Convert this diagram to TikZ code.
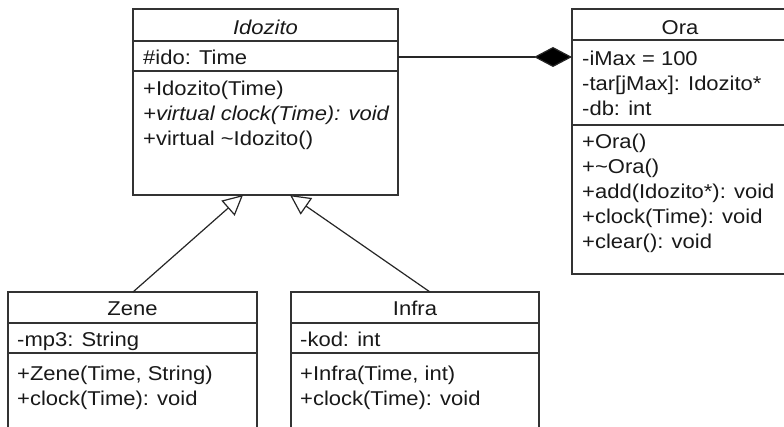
\documentclass[tikz,border=0pt]{standalone}
\usepackage{fontspec}
\setmainfont{Liberation Sans}[FakeStretch=1.1]
\usetikzlibrary{arrows.meta}
\tikzset{
  box/.style={draw=black!80, line width=1.2pt, fill=white, anchor=north west, inner sep=0pt, outer sep=0pt},
  sep/.style={draw=black!80, line width=1.2pt},
  txt/.style={anchor=base west, inner sep=0pt, text=black!90, font=\fontsize{20}{24}\selectfont},
  ttl/.style={anchor=base, inner sep=0pt, text=black!90, font=\fontsize{20}{24}\selectfont},
  comp/.style={draw=black!85, line width=1.2pt, -{Diamond[length=38pt,width=20pt,fill=black]}},
  gen/.style={draw=black!85, line width=1.2pt, -{Triangle[open,length=20pt,width=20pt,fill=white]}}
}
\begin{document}
\begin{tikzpicture}[x=1pt,y=-1pt]
\useasboundingbox (0,0) rectangle (784,427);
\clip (0,0) rectangle (784,427);
\fill[white] (0,0) rectangle (784,427);

% Idozito
\node[box, minimum width=265pt, minimum height=186pt] (idz) at (133,9) {};
\draw[sep] ([yshift=-32pt]idz.north west) -- ([yshift=-32pt]idz.north east);
\draw[sep] ([yshift=-62pt]idz.north west) -- ([yshift=-62pt]idz.north east);
\node[ttl] (idzt) at (265.5,35) {\itshape Idozito};
\node[txt] (idza) at (143,65) {\#ido: Time};
\node[txt] (idzm1) at (143,96) {+Idozito(Time)};
\node[txt] (idzm2) at (143,121) {\itshape +virtual clock(Time): void};
\node[txt] (idzm3) at (143,146) {+virtual \textasciitilde Idozito()};

% Ora
\node[box, minimum width=216pt, minimum height=265pt] (ora) at (572,9) {};
\draw[sep] ([yshift=-31pt]ora.north west) -- ([yshift=-31pt]ora.north east);
\draw[sep] ([yshift=-116pt]ora.north west) -- ([yshift=-116pt]ora.north east);
\node[ttl] (orat) at (680,35) {Ora};
\node[txt] (oraa1) at (582,66) {-iMax = 100};
\node[txt] (oraa2) at (582,91) {-tar[jMax]: Idozito*};
\node[txt] (oraa3) at (582,116) {-db: int};
\node[txt] (oram1) at (582,149) {+Ora()};
\node[txt] (oram2) at (582,174) {+\textasciitilde Ora()};
\node[txt] (oram3) at (582,199) {+add(Idozito*): void};
\node[txt] (oram4) at (582,224) {+clock(Time): void};
\node[txt] (oram5) at (582,249) {+clear(): void};

% Zene
\node[box, minimum width=249pt, minimum height=160pt] (zene) at (8,292) {};
\draw[sep] ([yshift=-31pt]zene.north west) -- ([yshift=-31pt]zene.north east);
\draw[sep] ([yshift=-61pt]zene.north west) -- ([yshift=-61pt]zene.north east);
\node[ttl] (zenet) at (132.5,316) {Zene};
\node[txt] (zenea) at (17,346) {-mp3: String};
\node[txt] (zenem1) at (17,380) {+Zene(Time, String)};
\node[txt] (zenem2) at (17,405) {+clock(Time): void};

% Infra
\node[box, minimum width=248pt, minimum height=160pt] (infra) at (291,292) {};
\draw[sep] ([yshift=-31pt]infra.north west) -- ([yshift=-31pt]infra.north east);
\draw[sep] ([yshift=-61pt]infra.north west) -- ([yshift=-61pt]infra.north east);
\node[ttl] (infrat) at (415,316) {Infra};
\node[txt] (infraa) at (300,346) {-kod: int};
\node[txt] (inframm1) at (300,380) {+Infra(Time, int)};
\node[txt] (inframm2) at (300,405) {+clock(Time): void};

% connectors
\draw[comp] ([yshift=-48pt]idz.north east) -- ([yshift=-48pt]ora.north west);
\draw[gen] ([xshift=125pt]zene.north west) -- ([xshift=110pt]idz.south west);
\draw[gen] ([xshift=139pt]infra.north west) -- ([xshift=157pt]idz.south west);
\end{tikzpicture}
\end{document}
